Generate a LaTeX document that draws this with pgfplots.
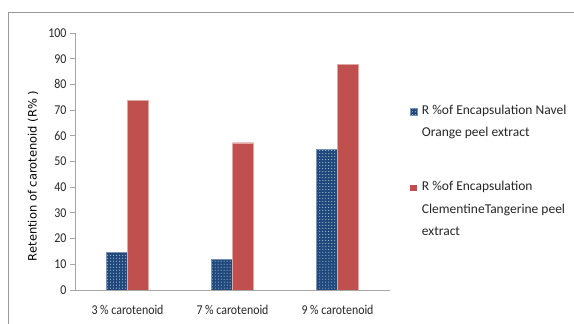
\documentclass[border=0pt]{standalone}
\usepackage{pgfplots}
\pgfplotsset{compat=1.18}
\usepackage{fontspec}
\setmainfont{Carlito}
\newfontfamily\condfont{Carlito}[FakeStretch=0.88]
\newfontfamily\labfont{DejaVu Sans}
\usetikzlibrary{patterns}
\definecolor{cblue}{HTML}{1F497D}
\definecolor{cred}{HTML}{C0504D}
\definecolor{axgray}{HTML}{A6A6A6}
\begin{document}
\begin{tikzpicture}
\useasboundingbox (0,0) rectangle (574bp,324bp);
\draw[draw=gray!80, line width=1bp] (8bp,0) -- (8bp,311.7bp) -- (574bp,311.7bp);
\begin{axis}[
  at={(75bp,34bp)}, anchor=south west,
  scale only axis, width=315bp, height=257bp,
  ybar=0pt, bar width=21bp,
  xmin=-0.5, xmax=2.5, ymin=0, ymax=100,
  xtick={0,1,2},
  xticklabels={3 \% carotenoid, 7 \% carotenoid, 9 \% carotenoid},
  ytick={0,10,...,100},
  axis x line*=bottom, axis y line*=left,
  axis line style={draw=axgray, line width=1bp},
  x tick style={draw=none},
  y tick style={draw=axgray, line width=0.8bp},
  tick align=outside, major tick length=5bp,
  yticklabel style={font=\condfont\fontsize{13.5bp}{15bp}\selectfont, text=black!85},
  xticklabel style={font=\condfont\fontsize{13.5bp}{15bp}\selectfont, text=black!85, yshift=-7bp},
  /pgf/number format/assume math mode=true,
  every axis y label/.style={at={(axis description cs:-0.133,0.444)}, rotate=90, anchor=center},
  ylabel={\labfont\fontsize{11.5bp}{13bp}\selectfont Retention of carotenoid (R\% )},
  legend style={at={(axis description cs:1.063,0.729)}, anchor=north west, draw=none, fill=none,
    font=\fontsize{13.5bp}{22.5bp}\selectfont, text=black!85, cells={anchor=north west, align=left}, row sep=39bp, inner sep=0pt},
  legend image code/.code={\draw[#1, draw=none] (0bp,-12bp) rectangle (6.5bp,-5.5bp); \path (9.5bp,-8bp);},
]
\addplot[fill=cblue, draw=cblue!60!white, line width=0.4bp, postaction={pattern=dots, pattern color=white!85!cblue}]
  coordinates {(0,14.6) (1,11.9) (2,54.7)};
\addplot[fill=cred, draw=cred!50!white, line width=0.4bp]
  coordinates {(0,73.8) (1,57.3) (2,87.8)};
\legend{R \%of Encapsulation Navel\\Orange peel extract, R \%of Encapsulation\\ClementineTangerine peel\\extract}
\end{axis}
\end{tikzpicture}
\end{document}
